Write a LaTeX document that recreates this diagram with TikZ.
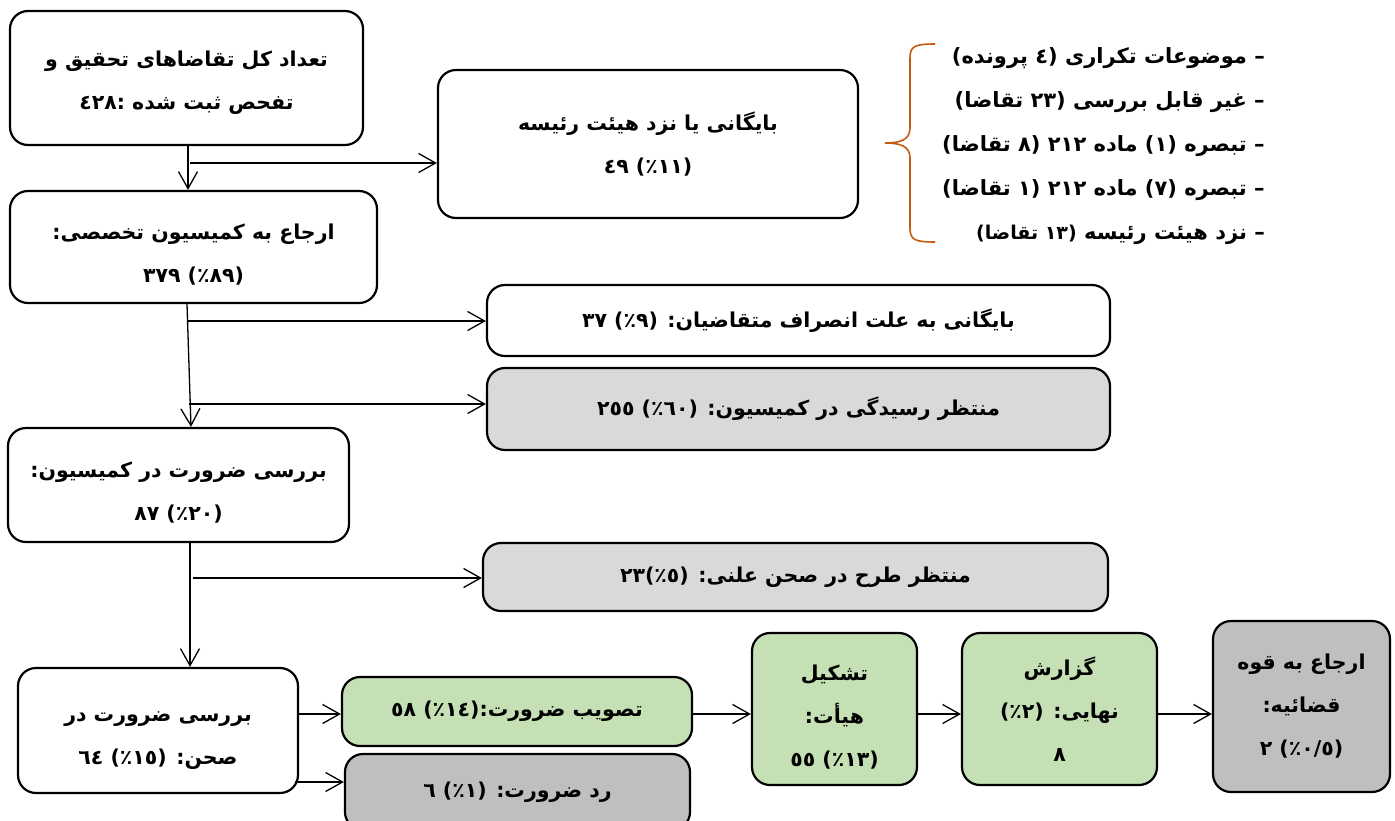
\documentclass[tikz,border=0pt]{standalone}
\usepackage{fontspec}
\usetikzlibrary{arrows.meta}
\TeXXeTstate=1
\newfontfamily\arabicfont[Script=Arabic]{DejaVu Sans}
\newcommand\fa[1]{\beginR #1\endR}
\newcommand\lift[1]{\rule{0pt}{#1}}
\definecolor{gfill}{HTML}{C5E0B4}
\definecolor{lgray}{HTML}{D9D9D9}
\definecolor{dgray}{HTML}{BFBFBF}
\definecolor{brc}{HTML}{C55A11}
\tikzset{
  box/.style={draw=black, line width=2.2pt, rounded corners=18pt, fill=white,
    align=center, inner sep=0pt,
    font=\arabicfont\bfseries\fontsize{20.5}{43}\selectfont},
  greenbox/.style={box, fill=gfill},
  lightbox/.style={box, fill=lgray},
  darkbox/.style={box, fill=dgray},
  arr/.style={line width=1.3pt, -{Straight Barb[length=17pt,width=19pt,line width=1.3pt]}},
  notes/.style={align=right, inner sep=0pt, anchor=north east,
    font=\arabicfont\bfseries\fontsize{21}{44}\selectfont}
}
\begin{document}
\begin{tikzpicture}[x=1pt,y=-1pt]
\useasboundingbox (0,0) rectangle (1395,820);
% boxes
\node[box, minimum width=353pt, minimum height=134pt] (A) at (186.5,78)
  {\lift{24pt}\fa{تعداد کل تقاضاهای تحقیق و}\\\fa{تفحص ثبت شده :٤٢٨}};
\node[box, minimum width=420pt, minimum height=148pt] (B) at (648,144)
  {\fa{بایگانی یا نزد هیئت رئیسه}\\\fa{(١١٪) ٤٩}};
\node[box, minimum width=367pt, minimum height=112pt] (C) at (193.5,247)
  {\lift{31pt}\fa{ارجاع به کمیسیون تخصصی:}\\\fa{(٨٩٪) ٣٧٩}};
\node[box, minimum width=623pt, minimum height=71pt] (D) at (798.5,320.5)
  {\fa{بایگانی به علت انصراف متقاضیان: (٩٪) ٣٧}};
\node[lightbox, minimum width=623pt, minimum height=82pt] (E) at (798.5,409)
  {\fa{منتظر رسیدگی در کمیسیون: (٦٠٪) ٢٥٥}};
\node[box, minimum width=341pt, minimum height=114pt] (F) at (178.5,485)
  {\lift{31pt}\fa{بررسی ضرورت در کمیسیون:}\\\fa{(٢٠٪) ٨٧}};
\node[lightbox, minimum width=625pt, minimum height=68pt] (G) at (795.5,577)
  {\fa{منتظر طرح در صحن علنی: (٥٪)٢٣}};
\node[box, minimum width=280pt, minimum height=125pt] (H) at (158,730.5)
  {\lift{30pt}\fa{بررسی ضرورت در}\\\fa{صحن: (١٥٪) ٦٤}};
\node[greenbox, minimum width=350pt, minimum height=69pt] (I) at (517,711.5)
  {\fa{تصویب ضرورت:(١٤٪) ٥٨}};
\node[darkbox, minimum width=345pt, minimum height=76pt] (J) at (517.5,792)
  {\fa{رد ضرورت: (١٪) ٦}};
\node[greenbox, minimum width=165pt, minimum height=152pt] (K) at (834.5,709)
  {\lift{32pt}\fa{تشکیل}\\\fa{هیأت:}\\\fa{(١٣٪) ٥٥}};
\node[greenbox, minimum width=195pt, minimum height=152pt] (L) at (1059.5,709)
  {\fa{گزارش}\\\fa{نهایی: (٢٪)}\\\fa{٨}};
\node[darkbox, minimum width=177pt, minimum height=171pt] (M) at (1301.5,706.5)
  {\fa{ارجاع به قوه}\\\fa{قضائیه:}\\\fa{(٠/٥٪) ٢}};
% notes and brace
\node[notes] (N) at (1265,47)
  {\fa{– موضوعات تکراری (٤ پرونده)}\\
   \fa{– غیر قابل بررسی (٢٣ تقاضا)}\\
   \fa{– تبصره (١) ماده ٢١٢ (٨ تقاضا)}\\
   \fa{– تبصره (٧) ماده ٢١٢ (١ تقاضا)}\\
   \fa{– نزد هیئت رئیسه {\fontsize{19}{44}\selectfont(١٣ تقاضا)}}};
\draw[brc, line width=1.6pt] (935,44) .. controls (915,44) and (910,46) .. (910,58)
  -- (910,128) .. controls (910,140) and (900,143) .. (885,143)
  .. controls (900,143) and (910,146) .. (910,158)
  -- (910,228) .. controls (910,240) and (915,242) .. (935,242);
% connector coordinates
\coordinate (x1) at (188,0);
\coordinate (x2) at (187,0);
\coordinate (x2b) at (191,0);
\coordinate (x3) at (190,0);
\coordinate (bB) at (190,163);
\coordinate (bD) at (188,321);
\coordinate (bE) at (189,404);
\coordinate (bG) at (193,578);
\coordinate (bI) at (298,714);
\coordinate (bJ) at (295,782);
\coordinate (yK) at (0,714);
% connectors
\draw[arr] (A.south -| x1) -- (C.north -| x1);
\draw[arr] (bB) -- (bB -| B.west);
\draw[arr] (C.south -| x2) -- (F.north -| x2b);
\draw[arr] (bD) -- (bD -| D.west);
\draw[arr] (bE) -- (bE -| E.west);
\draw[arr] (F.south -| x3) -- (H.north -| x3);
\draw[arr] (bG) -- (bG -| G.west);
\draw[arr] (bI) -- (bI -| I.west);
\draw[arr] (bJ) -- (bJ -| J.west);
\draw[arr] (I.east |- yK) -- (K.west |- yK);
\draw[arr] (K.east |- yK) -- (L.west |- yK);
\draw[arr] (L.east |- yK) -- (M.west |- yK);
\end{tikzpicture}
\end{document}
